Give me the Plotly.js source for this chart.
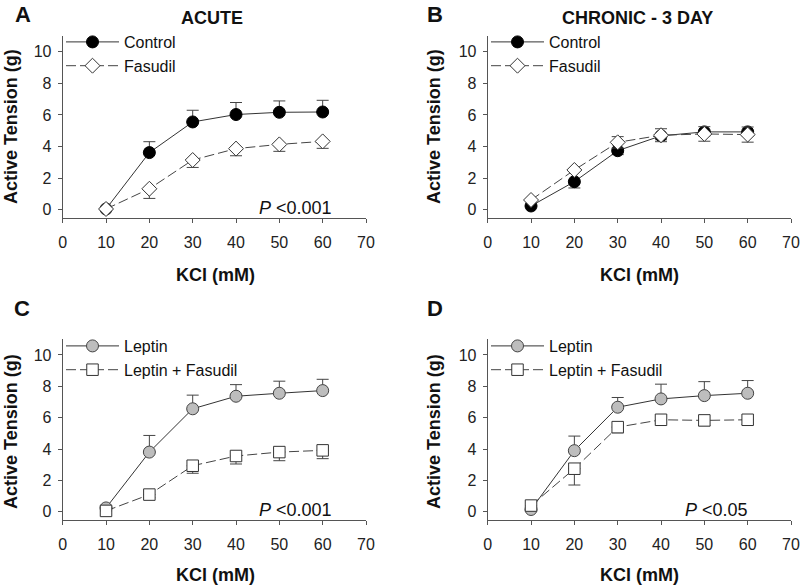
<!DOCTYPE html>
<html>
<head>
<meta charset="utf-8">
<script src="https://cdn.plot.ly/plotly-3.0.1.min.js"></script>
<style>html,body{margin:0;padding:0;background:#fff;}#chart{width:800px;height:587px;}</style>
</head>
<body>
<div id="chart"></div>
<script>
// ---- data ----
const kcl = [10, 20, 30, 40, 50, 60];
const xTicks = [0, 10, 20, 30, 40, 50, 60, 70];
const yTicks = [0, 2, 4, 6, 8, 10];

// Panel A: Acute
const acuteControl    = [0.05, 3.62, 5.56, 6.03, 6.17, 6.19];
const acuteControlErr = [0, 0.69, 0.74, 0.76, 0.72, 0.74];
const acuteFasudil    = [0.05, 1.33, 3.15, 3.87, 4.14, 4.33];
const acuteFasudilErr = [0, 0.61, 0.47, 0.45, 0.44, 0.44];

// Panel B: Chronic - 3 day
const chronicControl    = [0.24, 1.78, 3.74, 4.68, 4.93, 4.93];
const chronicControlErr = [0, 0.40, 0.25, 0.25, 0.25, 0.25];
const chronicFasudil    = [0.62, 2.52, 4.27, 4.72, 4.80, 4.76];
const chronicFasudilErr = [0, 0, 0.36, 0.41, 0.46, 0.48];

// Panel C: Leptin (acute)
const leptinC       = [0.25, 3.81, 6.57, 7.37, 7.56, 7.73];
const leptinCErr    = [0, 1.06, 0.87, 0.74, 0.77, 0.72];
const leptinFasC    = [0.06, 1.10, 2.94, 3.56, 3.81, 3.92];
const leptinFasCErr = [0, 0.2, 0.48, 0.51, 0.55, 0.53];

// Panel D: Leptin (chronic)
const leptinD       = [0.15, 3.90, 6.67, 7.20, 7.41, 7.56];
const leptinDErr    = [0, 0.93, 0.62, 0.94, 0.89, 0.81];
const leptinFasD    = [0.40, 2.75, 5.40, 5.87, 5.83, 5.87];
const leptinFasDErr = [0, 1.04, 0.36, 0.22, 0.34, 0.30];

const panelTitles = ['ACUTE', 'CHRONIC - 3 DAY'];
const panelLetters = ['A', 'B', 'C', 'D'];
const pValues = ['<i>P</i> <0.001', '<i>P</i> <0.001', '<i>P</i> <0.05'];
const xTitle = 'KCl (mM)';
const yTitle = 'Active Tension (g)';

// ---- styling helpers ----
const W = 800, H = 587;
const px = x => x / W;
const py = y => 1 - y / H;
const FONT = 'Liberation Sans, Arial, sans-serif';
const LINE = '#333';

function errUp(arr) { return {type: 'data', symmetric: false, array: arr, arrayminus: arr.map(() => 0), color: '#444', thickness: 1, width: 6}; }
function errDown(arr) { return {type: 'data', symmetric: false, array: arr.map(() => 0), arrayminus: arr, color: '#444', thickness: 1, width: 6}; }
function errBoth(arr) { return {type: 'data', symmetric: true, array: arr, color: '#444', thickness: 1, width: 6}; }

function solidTrace(name, y, err, xa, ya, lg, fill) {
  return {x: kcl, y: y, name: name, xaxis: xa, yaxis: ya, legend: lg, type: 'scatter', mode: 'lines+markers',
    line: {color: LINE, width: 1},
    marker: {symbol: 'circle', size: 12, color: fill, line: {color: fill === '#000' ? '#000' : '#444', width: 1}},
    error_y: err};
}
function openTrace(name, y, err, xa, ya, lg, sym, size) {
  return {x: kcl, y: y, name: name, xaxis: xa, yaxis: ya, legend: lg, type: 'scatter', mode: 'lines+markers',
    line: {color: '#444', width: 1, dash: '10px,4px'},
    marker: {symbol: sym, size: size, color: '#fff', line: {color: '#333', width: 1}},
    error_y: err};
}

const data = [
  solidTrace('Control', acuteControl, errUp(acuteControlErr), 'x', 'y', 'legend', '#000'),
  openTrace('Fasudil', acuteFasudil, errDown(acuteFasudilErr), 'x', 'y', 'legend', 'diamond', 11.5),
  solidTrace('Control', chronicControl, errDown(chronicControlErr), 'x2', 'y2', 'legend2', '#000'),
  openTrace('Fasudil', chronicFasudil, errBoth(chronicFasudilErr), 'x2', 'y2', 'legend2', 'diamond', 11.5),
  solidTrace('Leptin', leptinC, errUp(leptinCErr), 'x3', 'y3', 'legend3', '#bdbdbd'),
  openTrace('Leptin + Fasudil', leptinFasC, errDown(leptinFasCErr), 'x3', 'y3', 'legend3', 'square', 11.5),
  solidTrace('Leptin', leptinD, errUp(leptinDErr), 'x4', 'y4', 'legend4', '#bdbdbd'),
  openTrace('Leptin + Fasudil', leptinFasD, errDown(leptinFasDErr), 'x4', 'y4', 'legend4', 'square', 11.5)
];

function xAxis(x0, x1, anchor) {
  return {domain: [px(x0), px(x1)], anchor: anchor, range: [0, 70], tickvals: xTicks, ticktext: xTicks.map(String),
    showline: true, linecolor: '#555', linewidth: 1, ticks: 'outside', ticklen: 4, tickcolor: '#555',
    showgrid: false, zeroline: false, tickfont: {family: FONT, size: 16, color: '#222'}, ticklabelstandoff: 6};
}
function yAxis(top, bottom, anchor) {
  return {domain: [py(bottom), py(top)], anchor: anchor, range: [-0.52, 11.0], tickvals: yTicks, ticktext: yTicks.map(String),
    showline: true, linecolor: '#555', linewidth: 1, ticks: 'outside', ticklen: 4, tickcolor: '#555',
    showgrid: false, zeroline: false, tickfont: {family: FONT, size: 16, color: '#222'}, ticklabelstandoff: 3};
}

function legendAt(x, y) {
  return {x: px(x), y: py(y), xanchor: 'left', yanchor: 'top', bgcolor: 'rgba(0,0,0,0)',
    font: {family: FONT, size: 16, color: '#111'}, tracegroupgap: 0, itemwidth: 53, traceorder: 'normal'};
}

const annotations = [];
function ann(text, x, y, size, bold, extra) {
  annotations.push(Object.assign({text: bold ? '<b>' + text + '</b>' : text, x: px(x), y: py(y), xref: 'paper', yref: 'paper',
    showarrow: false, xanchor: 'center', yanchor: 'middle', font: {family: FONT, size: size, color: '#111'}}, extra || {}));
}
ann(panelLetters[0], 23, 0, 22, true, {yanchor: 'top'});
ann(panelLetters[1], 435, 0, 22, true, {yanchor: 'top'});
ann(panelLetters[2], 22, 308, 22, true);
ann(panelLetters[3], 435, 308, 22, true);
ann(panelTitles[0], 212, 18, 18, true);
ann(panelTitles[1], 637, 18, 18, true);
ann(xTitle, 215, 275, 18, true);
ann(xTitle, 639, 275, 18, true);
ann(xTitle, 215, 575, 18, true);
ann(xTitle, 639, 575, 18, true);
ann(yTitle, 11, 127, 18, true, {textangle: -90});
ann(yTitle, 434, 127, 18, true, {textangle: -90});
ann(yTitle, 11, 432, 18, true, {textangle: -90});
ann(yTitle, 434, 432, 18, true, {textangle: -90});
const pPos = [['x', 'y', 62.6], ['x3', 'y3', 62.6], ['x4', 'y4', 60.5]];
pPos.forEach((p, i) => {
  annotations.push({text: pValues[i], x: p[2], y: 0.1, xref: p[0], yref: p[1], showarrow: false,
    xanchor: 'right', yanchor: 'middle', font: {family: FONT, size: 18, color: '#111'}});
});

const layout = {
  width: W, height: H, margin: {l: 0, r: 0, t: 0, b: 0},
  paper_bgcolor: '#fff', plot_bgcolor: '#fff', showlegend: true,
  xaxis: xAxis(62.7, 366, 'y'), yaxis: yAxis(36, 218, 'x'),
  xaxis2: xAxis(487.7, 791, 'y2'), yaxis2: yAxis(36, 218, 'x2'),
  xaxis3: xAxis(62.7, 366, 'y3'), yaxis3: yAxis(339.3, 520, 'x3'),
  xaxis4: xAxis(487.7, 791, 'y4'), yaxis4: yAxis(339.3, 520, 'x4'),
  legend: legendAt(61, 25), legend2: legendAt(486, 25),
  legend3: legendAt(61, 329), legend4: legendAt(486, 329),
  annotations: annotations
};

Plotly.newPlot('chart', data, layout, {staticPlot: true, displayModeBar: false});
</script>
</body>
</html>
